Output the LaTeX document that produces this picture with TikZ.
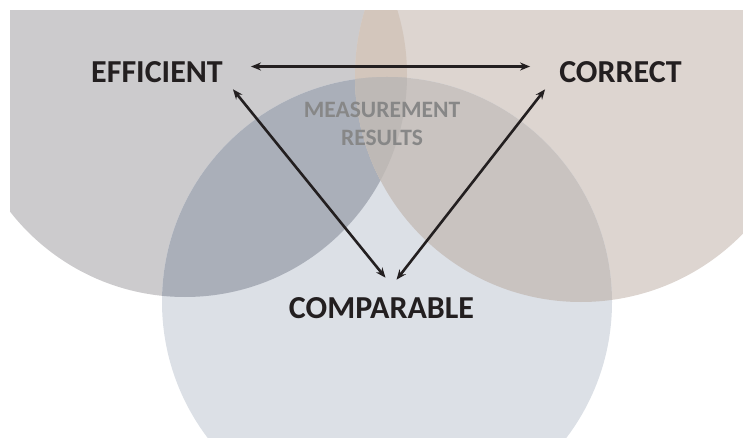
\documentclass[tikz,border=0pt]{standalone}
\usepackage{fontspec}
\setmainfont{Carlito}
\usetikzlibrary{arrows.meta}

\definecolor{leftc}{HTML}{CCCBCD}
\definecolor{rightc}{HTML}{DDD5D0}
\definecolor{botc}{HTML}{DCE0E6}
\definecolor{lbc}{HTML}{AAAFB9}
\definecolor{rbc}{HTML}{C9C3C0}
\definecolor{lrc}{HTML}{D3C6BC}
\definecolor{lrbc}{HTML}{BEB9B6}
\definecolor{txtc}{HTML}{231F20}
\definecolor{midc}{HTML}{878787}

\begin{document}
\begin{tikzpicture}[x=1pt,y=1pt,
        word/.style={font=\fontsize{32}{38}\selectfont\bfseries, text=txtc, inner sep=0pt},
        link/.style={{Stealth[length=10pt,width=8pt]}-{Stealth[length=10pt,width=8pt]}, line width=2.6pt, draw=txtc}
      ]
      \useasboundingbox (0,0) rectangle (743,437);
      \coordinate (cl) at (185,362);
      \coordinate (cr) at (581,361);
      \coordinate (cb) at (387,135);
      \begin{scope}
        \clip (10,0) rectangle (743,426);
        % the three discs
        \fill [leftc] (cl) circle (222pt);
        \fill [rightc] (cr) circle (226pt);
        \fill [botc] (cb) circle (225pt);
        % overlaps
        \begin{scope}
          \clip (cl) circle (222pt);
          \fill [lbc] (cb) circle (225pt);
          \fill [lrc] (cr) circle (226pt);
          \clip (cr) circle (226pt);
          \fill [lrbc] (cb) circle (225pt);
        \end{scope}
        \begin{scope}
          \clip (cr) circle (226pt);
          \fill [rbc] (cb) circle (225pt);
          \clip (cl) circle (222pt);
          \fill [lrbc] (cb) circle (225pt);
        \end{scope}
      \end{scope}
      \node [word] (eff) at (157,364.5) {EFFICIENT};
      \node [word] (cor) at (620.5,364.5) {CORRECT};
      \node [word] (comp) at (381.5,128.5) {COMPARABLE};
      \node [font=\fontsize{23.5}{28}\selectfont\bfseries, text=midc, align=center, inner sep=0pt] (meas) at (382,313) {MEASUREMENT\\RESULTS};
      \draw [link] ([yshift=6pt]eff.east) ++(28,0) -- ([xshift=-29pt,yshift=6pt]cor.west);
      \draw [link] ([shift={(10pt,-6pt)}]eff.south east) -- ([shift={(4pt,20pt)}]comp.north);
      \draw [link] ([shift={(-14pt,-6pt)}]cor.south west) -- ([shift={(15pt,18pt)}]comp.north);
    \end{tikzpicture}
\end{document}
